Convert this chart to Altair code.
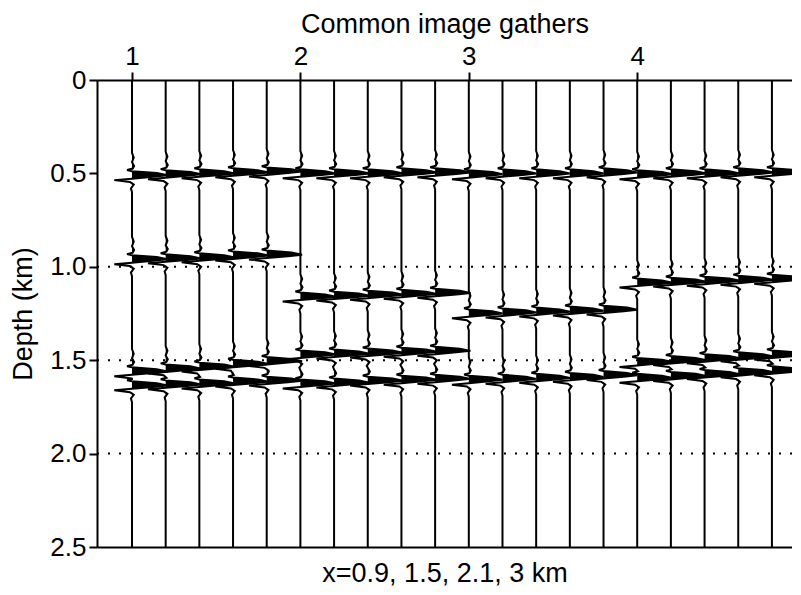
import altair as alt
import pandas as pd

# ---------------- data ----------------
gather_labels = ["1", "2", "3", "4"]
traces_per_gather = 5
depth_ticks = [0.0, 0.5, 1.0, 1.5, 2.0, 2.5]
grid_depths = [1.0, 1.5, 2.0]

# picked event depths (km) for the 5 traces of each gather
gather1_events = [
    [0.51, 0.505, 0.50, 0.495, 0.49],
    [0.96, 0.955, 0.95, 0.94, 0.935],
    [1.56, 1.545, 1.535, 1.52, 1.505],
    [1.635, 1.63, 1.625, 1.615, 1.61],
]
gather2_events = [
    [0.50, 0.50, 0.50, 0.495, 0.495],
    [1.16, 1.155, 1.15, 1.145, 1.14],
    [1.47, 1.465, 1.46, 1.455, 1.45],
    [1.625, 1.62, 1.61, 1.605, 1.60],
]
gather3_events = [
    [0.505, 0.50, 0.50, 0.50, 0.495],
    [1.25, 1.245, 1.24, 1.235, 1.23],
    [1.605, 1.60, 1.595, 1.59, 1.58],
]
gather4_events = [
    [0.505, 0.50, 0.50, 0.495, 0.495],
    [1.085, 1.08, 1.075, 1.07, 1.065],
    [1.51, 1.50, 1.49, 1.48, 1.47],
    [1.595, 1.585, 1.575, 1.565, 1.555],
]
gather_amplitude = [1.05, 1.05, 1.0, 1.05]

# wavelet shape (depth offset km, amplitude in trace spacings)
wavelet_dz = [-0.12, -0.095, -0.07, -0.05, -0.036, -0.028, -0.022,
              -0.012, 0.0, 0.008, 0.018, 0.026, 0.036, 0.05, 0.07, 0.09]
wavelet_amp = [0.0, 0.05, 0.0, 0.06, 0.02, -0.14, 0.0,
               0.7, 1.0, 0.6, 0.0, -0.5, -0.06, 0.05, -0.03, 0.0]

# ---------------- build table ----------------
gathers = [gather1_events, gather2_events, gather3_events, gather4_events]
rows = []
for g, events in enumerate(gathers):
    for j in range(traces_per_gather):
        t = g * traces_per_gather + j
        base = float(t)
        depths = sorted(ev[j] for ev in events)
        rows.append((t, base, 0.0, 0.0))
        for k, d in enumerate(depths):
            lo = (depths[k - 1] + d) / 2 if k > 0 else 0.0
            hi = (d + depths[k + 1]) / 2 if k < len(depths) - 1 else 2.5
            for dz, a in zip(wavelet_dz, wavelet_amp):
                z = d + dz
                if lo < z < hi:
                    rows.append((t, base, z, a * gather_amplitude[g]))
        rows.append((t, base, 2.5, 0.0))

df = pd.DataFrame(rows, columns=["trace", "base", "depth", "amp"])
df["wx"] = df["base"] + df["amp"]
df["fillx"] = df["base"] + df["amp"].clip(lower=0)

grid_df = pd.DataFrame({"depth": grid_depths})

# ---------------- chart ----------------
FONT = "Liberation Sans"
xscale = alt.Scale(domain=[-1.039, 19.596], nice=False, zero=False)
yscale = alt.Scale(domain=[0, 2.5], reverse=True, nice=False, zero=False)

y_axis = alt.Axis(values=depth_ticks, title="Depth (km)",
                  labelExpr="datum.value == 0 ? '0' : format(datum.value, '.1f')",
                  tickSize=8, labelPadding=3, titlePadding=12,
                  labelFontSize=26, titleFontSize=27)

def yenc():
    return alt.Y("depth:Q", scale=yscale, axis=y_axis)

top_axis = alt.Axis(orient="top", values=[0, 5, 10, 15],
                    labelExpr="['1','2','3','4'][round(datum.value / 5)]",
                    title="Common image gathers", tickSize=8, labelPadding=3,
                    titlePadding=5, labelFontSize=26, titleFontSize=27)
bottom_axis = alt.Axis(orient="bottom", ticks=False, labels=False,
                       title="x=0.9, 1.5, 2.1, 3 km", titlePadding=13,
                       titleFontSize=27)

grid = alt.Chart(grid_df).mark_rule(color="black", strokeWidth=2,
                                    strokeDash=[2, 9]).encode(y=yenc())

area = alt.Chart(df).mark_area(orient="horizontal", color="black", clip=True,
                               opacity=1).encode(
    x=alt.X("fillx:Q", scale=xscale, axis=bottom_axis),
    x2="base:Q",
    y=yenc(),
    detail="trace:N",
)

line = alt.Chart(df).mark_line(color="black", strokeWidth=2, clip=True).encode(
    x=alt.X("wx:Q", scale=xscale, axis=top_axis),
    y=yenc(),
    detail="trace:N",
    order=alt.Order("depth:Q"),
)

chart = alt.layer(grid, area, line).resolve_axis(x="independent").properties(
    width=695, height=467,
    autosize=alt.AutoSizeParams(type="none"),
    padding={"left": 89, "top": 72, "right": 0, "bottom": 40},
).configure_view(strokeWidth=0).configure_axis(
    labelFont=FONT, titleFont=FONT, labelColor="black", titleColor="black",
    domainColor="black", tickColor="black", domainWidth=2, tickWidth=2,
    grid=False, titleFontWeight="normal",
)

chart.save("out.html", embed_options={"renderer": "svg", "actions": False})
